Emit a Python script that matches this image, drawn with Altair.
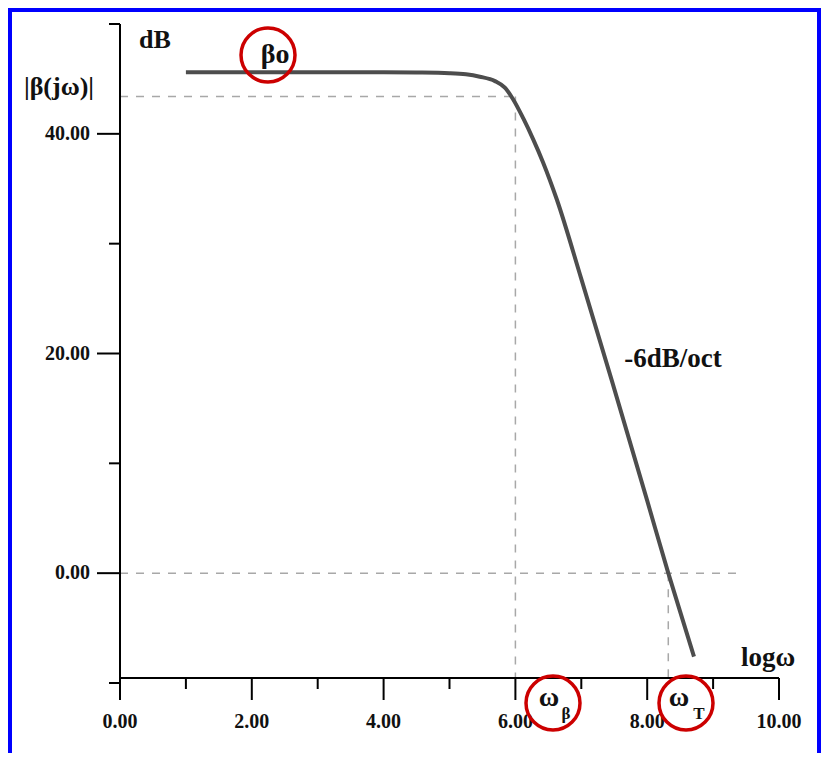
import altair as alt
import pandas as pd

# ---- data ----
log_w = [1.0, 2.0, 3.0, 4.0, 4.5, 5.0, 5.25, 5.46, 5.69, 5.84, 5.96, 6.12, 6.27,
         6.42, 6.63, 7.0, 7.46, 8.0, 8.32, 8.71]
gain_db = [45.6, 45.6, 45.6, 45.6, 45.58, 45.52, 45.42, 45.2, 44.8, 44.2, 43.2, 41.4,
           39.5, 37.4, 34.0, 26.8, 17.6, 6.6, 0.0, -7.6]

x_major = [0, 2, 4, 6, 8, 10]
x_minor = [1, 3, 5, 7, 9]
y_major = [0, 20, 40]
y_minor = [-10, 10, 30, 50]

level_3db = 43.4      # -3 dB level
w_beta = 6.0          # corner
w_T = 8.32            # unity-gain crossing
zero_line_end = 9.41

FONT = "Liberation Serif"
LINE = "#4d4d4d"
DASH = "#a8a8a8"
RED = "#cc0000"

W, H = 659, 659
AX_Y = 654  # pixel row of x-axis line

xs = alt.Scale(domain=[0, 10], nice=False, zero=False)
ys = alt.Scale(domain=[-10, 50], nice=False, zero=False)

curve_df = pd.DataFrame({"x": log_w, "y": gain_db})
one = pd.DataFrame({"a": [0]})

curve = alt.Chart(curve_df).mark_line(color=LINE, strokeWidth=4, interpolate="monotone").encode(
    x=alt.X("x:Q", scale=xs, axis=None), y=alt.Y("y:Q", scale=ys, axis=None))

# axes
y_axis = alt.Chart(one).mark_rule(color="black", strokeWidth=2).encode(
    x=alt.value(0), y=alt.value(0), y2=alt.value(H))
x_axis = alt.Chart(one).mark_rule(color="black", strokeWidth=2).encode(
    x=alt.value(0), x2=alt.value(W), y=alt.value(AX_Y))

xmaj = alt.Chart(pd.DataFrame({"x": x_major})).mark_rule(color="black", strokeWidth=2).encode(
    x=alt.X("x:Q", scale=xs, axis=None), y=alt.value(AX_Y), y2=alt.value(AX_Y + 22))
xmin = alt.Chart(pd.DataFrame({"x": x_minor})).mark_rule(color="black", strokeWidth=2).encode(
    x=alt.X("x:Q", scale=xs, axis=None), y=alt.value(AX_Y), y2=alt.value(AX_Y + 11))
ymaj = alt.Chart(pd.DataFrame({"y": y_major})).mark_rule(color="black", strokeWidth=2).encode(
    y=alt.Y("y:Q", scale=ys, axis=None), x=alt.value(-23), x2=alt.value(0))
ymin = alt.Chart(pd.DataFrame({"y": y_minor})).mark_rule(color="black", strokeWidth=2).encode(
    y=alt.Y("y:Q", scale=ys, axis=None), x=alt.value(-11), x2=alt.value(0))

xlab = alt.Chart(pd.DataFrame({"x": x_major})).mark_text(
    font=FONT, fontSize=20, fontWeight="bold", color="#111", baseline="middle", align="center").encode(
    x=alt.X("x:Q", scale=xs, axis=None), y=alt.value(698), text=alt.Text("x:Q", format=".2f"))
ylab = alt.Chart(pd.DataFrame({"y": y_major})).mark_text(
    font=FONT, fontSize=20, fontWeight="bold", color="#111", baseline="middle", align="right").encode(
    y=alt.Y("y:Q", scale=ys, axis=None), x=alt.value(-30), text=alt.Text("y:Q", format=".2f"))

# dashed guides
dash_kw = dict(color=DASH, strokeWidth=1.5, strokeDash=[8, 8])
hdash_df = pd.DataFrame({"x": [0, 0], "x2": [w_beta, zero_line_end], "y": [level_3db, 0]})
vdash_df = pd.DataFrame({"x": [w_beta, w_T], "y": [level_3db, 0]})
hdash = alt.Chart(hdash_df).mark_rule(**dash_kw).encode(
    x=alt.X("x:Q", scale=xs, axis=None), x2="x2:Q", y=alt.Y("y:Q", scale=ys, axis=None))
vdash = alt.Chart(vdash_df).mark_rule(**dash_kw).encode(
    x=alt.X("x:Q", scale=xs, axis=None), y=alt.Y("y:Q", scale=ys, axis=None), y2=alt.value(AX_Y))


def label(txt, x, y, size=24, align="center", baseline="alphabetic"):
    return alt.Chart(one).mark_text(
        text=txt, font=FONT, fontSize=size, fontWeight="bold", color="#111",
        align=align, baseline=baseline).encode(x=alt.value(x), y=alt.value(y))


def ring(x, y):
    return alt.Chart(one).mark_point(
        shape="circle", size=2916, filled=False, color=RED, strokeWidth=3.5, opacity=1).encode(
        x=alt.value(x), y=alt.value(y))


texts = [
    label("dB", 35, 16, 26, baseline="middle"),
    label("|β(jω)|", -61, 63, 26, baseline="middle"),
    label("βo", 155, 39, 28),
    label("-6dB/oct", 553, 343, 27),
    label("logω", 648, 642, 27),
    label("ω", 429, 682, 28),
    label("β", 446, 690, 17, baseline="middle"),
    label("ω", 559, 682, 28),
    label("T", 579, 690, 17, baseline="middle"),
]
rings = [ring(148, 31), ring(433, 679), ring(566, 679)]

border = alt.Chart(one).mark_rect(fillOpacity=0, stroke="#0000ff", strokeWidth=4).encode(
    x=alt.value(-110), x2=alt.value(699), y=alt.value(-14), y2=alt.value(900))

chart = alt.layer(
    hdash, vdash, curve, y_axis, x_axis, xmaj, xmin, ymaj, ymin, xlab, ylab,
    *texts, *rings, border
).properties(
    width=W, height=H,
    padding={"left": 112, "top": 16, "right": 42, "bottom": 70},
    autosize=alt.AutoSizeParams(type="none"),
    background="white",
).configure_view(strokeOpacity=0)

chart.save("out.html", embed_options={"renderer": "svg", "actions": False})
